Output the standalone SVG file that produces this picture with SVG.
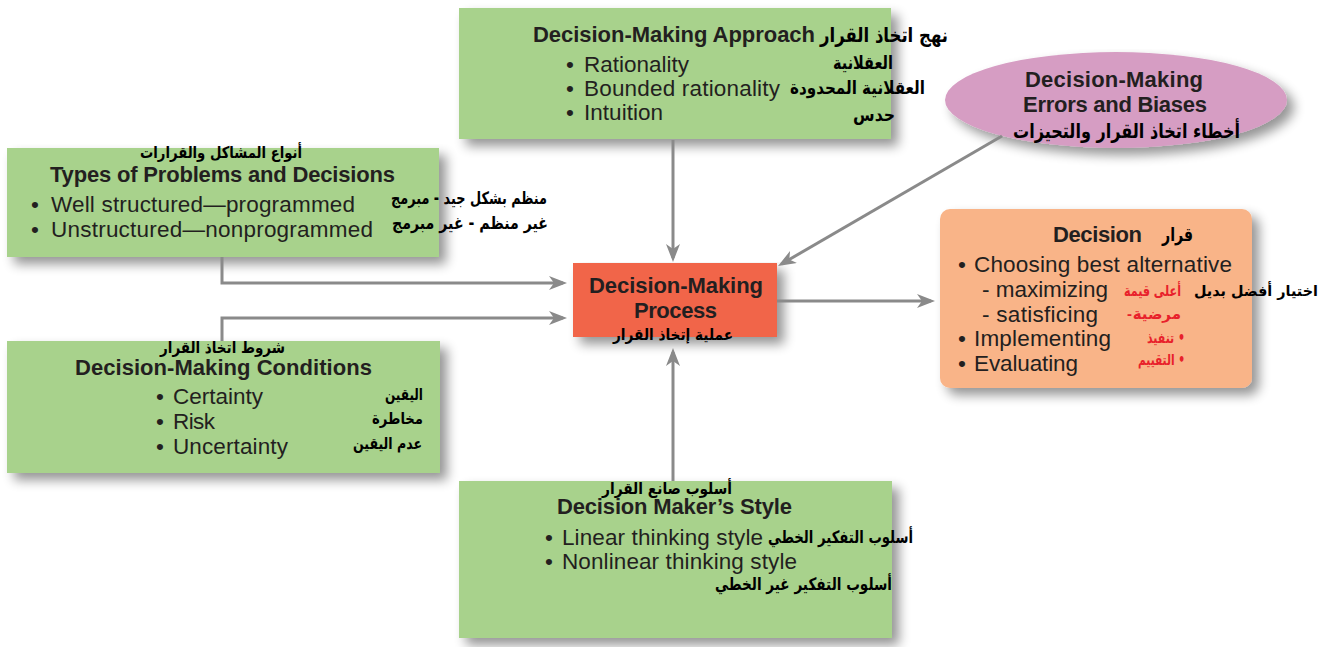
<svg xmlns="http://www.w3.org/2000/svg" width="1330" height="647" viewBox="0 0 1330 647">
<defs>
<style>
.en{font-family:"Liberation Sans",Arial,sans-serif;fill:#231f20;font-size:22.5px}
.b{font-weight:bold;font-size:22px}
.ar{font-family:"DejaVu Sans",sans-serif;font-weight:bold;fill:#000;direction:rtl;text-anchor:middle}
.red{fill:#e8212b}
.green{fill:#a8d28c}
.conn{fill:none;stroke:#8a8a8a;stroke-width:3;marker-end:url(#arr)}
</style>
<filter id="sh" x="-10%" y="-10%" width="130%" height="140%">
<feGaussianBlur in="SourceAlpha" stdDeviation="6"/>
<feOffset dx="7" dy="7" result="o"/>
<feComponentTransfer><feFuncA type="linear" slope="0.42"/></feComponentTransfer>
<feMerge><feMergeNode/><feMergeNode in="SourceGraphic"/></feMerge>
</filter>
<marker id="arr" markerUnits="userSpaceOnUse" markerWidth="18" markerHeight="14" refX="14" refY="7" orient="auto">
<path d="M0,0 L18,7 L0,14 L5,7 z" fill="#8a8a8a"/>
</marker>
</defs>
<rect width="1330" height="647" fill="#fff"/>

<g id="approach">
<rect class="green" x="459" y="8" width="432" height="131" filter="url(#sh)"/>
<text class="en b" x="533" y="42" textLength="282">Decision-Making Approach</text>
<text class="en" y="72"><tspan x="566">•</tspan><tspan x="584" textLength="105">Rationality</tspan></text>
<text class="en" y="96"><tspan x="566">•</tspan><tspan x="584" textLength="196">Bounded rationality</tspan></text>
<text class="en" y="120"><tspan x="566">•</tspan><tspan x="584" textLength="79">Intuition</tspan></text>
<text class="ar" x="884" y="42" font-size="20" textLength="128" lengthAdjust="spacingAndGlyphs">نهج اتخاذ القرار</text>
<text class="ar" x="863" y="69" font-size="18" textLength="60" lengthAdjust="spacingAndGlyphs">العقلانية</text>
<text class="ar" x="857.5" y="94" font-size="18" textLength="135" lengthAdjust="spacingAndGlyphs">العقلانية المحدودة</text>
<text class="ar" x="874" y="121" font-size="18" textLength="42" lengthAdjust="spacingAndGlyphs">حدس</text>
</g>

<g id="errors">
<ellipse cx="1116" cy="100" rx="171" ry="48" fill="#d69dc3" filter="url(#sh)"/>
<text class="en b" x="1025" y="87" textLength="178">Decision-Making</text>
<text class="en b" x="1023" y="112" textLength="184">Errors and Biases</text>
<text class="ar" x="1126.5" y="138" font-size="20" textLength="227" lengthAdjust="spacingAndGlyphs">أخطاء اتخاذ القرار والتحيزات</text>
</g>

<g id="types">
<rect class="green" x="7" y="148" width="432" height="109" filter="url(#sh)"/>
<text class="ar" x="221" y="158" font-size="16" textLength="162" lengthAdjust="spacingAndGlyphs">أنواع المشاكل والقرارات</text>
<text class="en b" x="50" y="182" textLength="345">Types of Problems and Decisions</text>
<text class="en" y="212"><tspan x="31">•</tspan><tspan x="51" textLength="304">Well structured—programmed</tspan></text>
<text class="en" y="237"><tspan x="31">•</tspan><tspan x="51" textLength="322">Unstructured—nonprogrammed</tspan></text>
<text class="ar" x="469" y="204" font-size="17" textLength="156" lengthAdjust="spacingAndGlyphs">منظم بشكل جيد - مبرمج</text>
<text class="ar" x="470" y="229" font-size="17" textLength="156" lengthAdjust="spacingAndGlyphs">غير منظم - غير مبرمج</text>
</g>

<g id="conditions">
<rect class="green" x="7" y="341" width="433" height="132" filter="url(#sh)"/>
<text class="ar" x="222.5" y="353" font-size="16" textLength="125" lengthAdjust="spacingAndGlyphs">شروط اتخاذ القرار</text>
<text class="en b" x="75" y="375" textLength="297">Decision-Making Conditions</text>
<text class="en" y="404"><tspan x="156">•</tspan><tspan x="173" textLength="90">Certainty</tspan></text>
<text class="en" y="429"><tspan x="156">•</tspan><tspan x="173" textLength="42">Risk</tspan></text>
<text class="en" y="454"><tspan x="156">•</tspan><tspan x="173" textLength="115">Uncertainty</tspan></text>
<text class="ar" x="404" y="400" font-size="16" textLength="38" lengthAdjust="spacingAndGlyphs">اليقين</text>
<text class="ar" x="397.5" y="424" font-size="16" textLength="51" lengthAdjust="spacingAndGlyphs">مخاطرة</text>
<text class="ar" x="387.5" y="449" font-size="16" textLength="69" lengthAdjust="spacingAndGlyphs">عدم اليقين</text>
</g>

<g id="process">
<rect x="573" y="263" width="204" height="74" fill="#f1654a" filter="url(#sh)"/>
<text class="en b" x="589" y="293" textLength="174">Decision-Making</text>
<text class="en b" x="634" y="318" textLength="83">Process</text>
<text class="ar" x="673" y="340" font-size="16" textLength="120" lengthAdjust="spacingAndGlyphs">عملية إتخاذ القرار</text>
</g>

<g id="decision">
<rect x="940" y="209" width="312" height="179" rx="10" fill="#f9b488" filter="url(#sh)"/>
<text class="en b" x="1053" y="242" textLength="89">Decision</text>
<text class="ar" x="1177.5" y="241" font-size="19" textLength="31" lengthAdjust="spacingAndGlyphs">قرار</text>
<text class="en" y="272"><tspan x="958">•</tspan><tspan x="974" textLength="258">Choosing best alternative</tspan></text>
<text class="en" x="982" y="297" textLength="126">- maximizing</text>
<text class="en" x="982" y="322" textLength="116">- satisficing</text>
<text class="en" y="346"><tspan x="958">•</tspan><tspan x="974" textLength="137">Implementing</tspan></text>
<text class="en" y="371"><tspan x="958">•</tspan><tspan x="974" textLength="104">Evaluating</tspan></text>
<text class="ar red" x="1152.5" y="296" font-size="15" textLength="57" lengthAdjust="spacingAndGlyphs">أعلى قيمة</text>
<text class="en red" x="1127" y="319" style="font-size:15px;font-weight:bold">-</text>
<text class="ar red" x="1181" y="319" font-size="15" style="direction:ltr;text-anchor:end">مرضية</text>
<text class="ar red" x="1166" y="343" font-size="15" textLength="38" lengthAdjust="spacingAndGlyphs">• تنفيذ</text>
<text class="ar red" x="1161.5" y="365" font-size="15" textLength="47" lengthAdjust="spacingAndGlyphs">• التقييم</text>
<text class="ar" x="1256" y="296" font-size="15" textLength="124" lengthAdjust="spacingAndGlyphs">اختيار أفضل بديل</text>
</g>

<g id="style">
<rect class="green" x="459" y="481" width="433" height="157" filter="url(#sh)"/>
<text class="ar" x="667" y="494" font-size="16" textLength="130" lengthAdjust="spacingAndGlyphs">أسلوب صانع القرار</text>
<text class="en b" x="557" y="514" textLength="235">Decision Maker’s Style</text>
<text class="en" y="545"><tspan x="545">•</tspan><tspan x="562" textLength="201">Linear thinking style</tspan></text>
<text class="en" y="569"><tspan x="545">•</tspan><tspan x="562" textLength="235">Nonlinear thinking style</tspan></text>
<text class="ar" x="840.5" y="543" font-size="17" textLength="145" lengthAdjust="spacingAndGlyphs">أسلوب التفكير الخطي</text>
<text class="ar" x="803.5" y="590" font-size="17" textLength="177" lengthAdjust="spacingAndGlyphs">أسلوب التفكير غير الخطي</text>
</g>

<g id="connectors">
<path class="conn" d="M673,140 V258"/>
<path class="conn" d="M1002,136 L781.5,264"/>
<path class="conn" d="M222,257 V283 H563"/>
<path class="conn" d="M222,341 V318 H563"/>
<path class="conn" d="M673,481 V352"/>
<path class="conn" d="M777,301 H931"/>
</g>
</svg>
